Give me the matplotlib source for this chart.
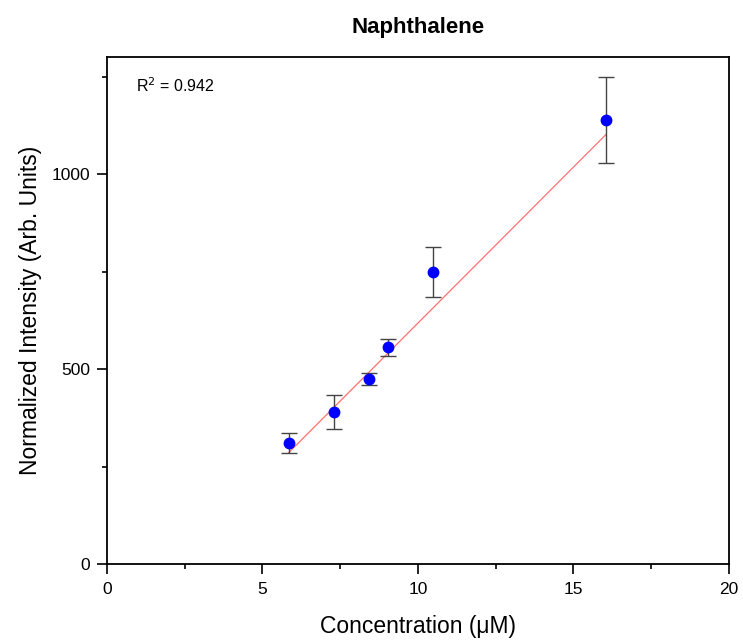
import numpy as np
import matplotlib
matplotlib.use("Agg")
import matplotlib.pyplot as plt
from matplotlib.ticker import MultipleLocator

plt.rcParams['font.family'] = ['Liberation Sans', 'DejaVu Sans']

# Data
conc = [5.84, 7.29, 8.44, 9.05, 10.5, 16.05]
intensity = [310, 390, 474, 556, 749, 1138]
err = [26, 43, 15, 22, 63, 110]
r_squared = 0.942

fig = plt.figure(figsize=(7.43, 6.41), dpi=100)
ax = fig.add_axes([0.144, 0.120, 0.837, 0.791])

# Linear fit, weighted by the error bars
x = np.array(conc); y = np.array(intensity); s = np.array(err)
coef = np.polyfit(x, y, 1, w=1.0 / s)
xf = np.linspace(x.min(), x.max(), 50)
ax.plot(xf, np.polyval(coef, xf), color="#ff7070", lw=0.9, zorder=1)

ax.errorbar(conc, intensity, yerr=err, fmt="none", ecolor="#444444",
            elinewidth=1.0, capsize=6, capthick=1.0, zorder=2)
ax.plot(conc, intensity, "o", color="#0000ff", ms=7.5, zorder=3)

ax.set_xlim(0, 20)
ax.set_ylim(0, 1300)
ax.xaxis.set_major_locator(MultipleLocator(5))
ax.xaxis.set_minor_locator(MultipleLocator(2.5))
ax.yaxis.set_major_locator(MultipleLocator(500))
ax.yaxis.set_minor_locator(MultipleLocator(250))
ax.tick_params(which="both", direction="out", top=False, right=False,
               labelsize=12.5, width=1.2)
ax.tick_params(which="major", length=7)
ax.tick_params(axis="x", which="major", pad=6)
ax.tick_params(axis="y", which="major", pad=5)
ax.tick_params(which="minor", length=3.5)
for sp in ax.spines.values():
    sp.set_linewidth(1.3)

ax.set_xlabel("Concentration (μM)", fontsize=16.5, labelpad=13)
ax.set_ylabel("Normalized Intensity (Arb. Units)", fontsize=16.5, labelpad=7)
ax.set_title("Naphthalene", fontsize=16, fontweight="bold", pad=17)
ax.text(0.046, 0.962, "R$^2$ = %.3f" % r_squared, transform=ax.transAxes,
        fontsize=11.5, va="top", ha="left")

fig.savefig("out.png", dpi=100)
